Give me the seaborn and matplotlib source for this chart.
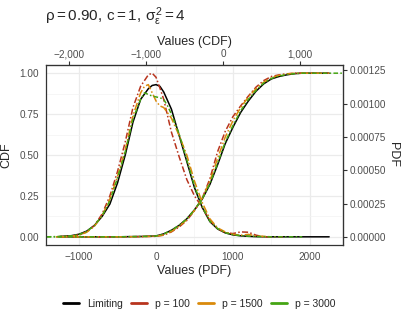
import numpy as np
import pandas as pd
import matplotlib
matplotlib.use("Agg")
import matplotlib.pyplot as plt
import seaborn as sns
from matplotlib.ticker import FuncFormatter, MultipleLocator
from matplotlib.lines import Line2D

# values (PDF curves in left-axis units, i.e. density / PDF_SCALE)
series_names = ["Limiting", "p = 100", "p = 1500", "p = 3000"]
colors = ["#000000", "#B8341E", "#D98A0B", "#45A514"]

lim_pdf_x = [-1250, -1100, -1000, -900, -800, -700, -600, -500, -400, -300, -200, -100, -50, 0,
             50, 100, 200, 300, 400, 500, 600, 700, 800, 900, 1000, 1100, 1200, 1300, 1500, 1800, 2250]
lim_pdf_y = [0.002, 0.007, 0.016, 0.035, 0.07, 0.125, 0.20, 0.33, 0.50, 0.70, 0.84, 0.905, 0.925, 0.93,
             0.92, 0.885, 0.78, 0.62, 0.46, 0.30, 0.18, 0.093, 0.048, 0.024, 0.012, 0.006, 0.003, 0.001, 0.0, 0.0, 0.0]

p100_pdf_x = [-1300, -1100, -1000, -900, -800, -700, -600, -500, -400, -300, -200, -100, -50, 0,
              50, 100, 200, 300, 400, 500, 600, 700, 800, 900, 1000, 1100, 1200, 1300, 1400, 1650]
p100_pdf_y = [0.0, 0.005, 0.012, 0.03, 0.07, 0.14, 0.25, 0.40, 0.58, 0.79, 0.92, 0.99, 1.0, 0.975,
              0.91, 0.84, 0.64, 0.49, 0.35, 0.25, 0.18, 0.10, 0.05, 0.025, 0.02, 0.03, 0.028, 0.01, 0.0, 0.0]

p1500_pdf_x = [-1300, -1100, -1000, -900, -800, -700, -600, -500, -400, -300, -200, -150, -100, -50, 0,
               50, 100, 200, 300, 400, 500, 600, 700, 800, 900, 1000, 1100, 1200, 1300, 1500]
p1500_pdf_y = [0.0, 0.004, 0.01, 0.028, 0.065, 0.13, 0.23, 0.37, 0.53, 0.74, 0.88, 0.92, 0.93, 0.88, 0.83,
               0.80, 0.79, 0.725, 0.62, 0.50, 0.34, 0.21, 0.11, 0.055, 0.03, 0.015, 0.01, 0.015, 0.005, 0.0]

p3000_pdf_x = [-1420, -1250, -1100, -1000, -900, -800, -700, -600, -500, -400, -300, -200, -150, -100, -50, 0,
               50, 100, 150, 200, 300, 400, 500, 600, 700, 800, 900, 1000, 1100, 1200, 1300, 1500, 1900]
p3000_pdf_y = [0.0, 0.002, 0.006, 0.014, 0.033, 0.07, 0.13, 0.22, 0.36, 0.52, 0.72, 0.84, 0.88, 0.87, 0.86, 0.855,
               0.85, 0.84, 0.80, 0.75, 0.63, 0.47, 0.31, 0.185, 0.095, 0.05, 0.025, 0.013, 0.007, 0.004, 0.002, 0.0, 0.0]

cdf_x = [-1250, -1000, -500, -200, 0, 100, 200, 300, 400, 500, 600, 700, 800, 900, 1000,
         1100, 1200, 1300, 1400, 1500, 1600, 1700, 1800, 1900, 2000, 2250]
lim_cdf_y = [0.0, 0.0, 0.0, 0.002, 0.005, 0.018, 0.04, 0.07, 0.11, 0.165, 0.23, 0.32, 0.44, 0.57, 0.67,
             0.76, 0.83, 0.89, 0.935, 0.965, 0.98, 0.99, 0.997, 1.0, 1.0, 1.0]
p100_cdf_y = [0.0, 0.0, 0.0, 0.001, 0.003, 0.01, 0.03, 0.06, 0.10, 0.16, 0.235, 0.355, 0.52, 0.645, 0.735,
              0.80, 0.86, 0.915, 0.955, 0.98, 0.99, 0.996, 1.0, 1.0, 1.0, 1.0]
p1500_cdf_y = [0.0, 0.0, 0.0, 0.001, 0.004, 0.012, 0.033, 0.065, 0.105, 0.162, 0.235, 0.34, 0.48, 0.61, 0.71,
               0.79, 0.855, 0.905, 0.945, 0.972, 0.987, 0.995, 1.0, 1.0, 1.0, 1.0]
p3000_cdf_x = [-1420] + cdf_x + [2420]
p3000_cdf_y = [0.0] + [0.0, 0.0, 0.0, 0.002, 0.005, 0.017, 0.04, 0.07, 0.11, 0.165, 0.232, 0.325, 0.45, 0.58, 0.68,
                       0.77, 0.84, 0.895, 0.94, 0.968, 0.983, 0.992, 0.997, 1.0, 1.0, 1.0] + [1.0]

PDF_SCALE = 0.001228   # right axis = left axis * PDF_SCALE
CDF_SHIFT = 870        # top axis = bottom axis - CDF_SHIFT

curves = [
    ("Limiting", "pdf", lim_pdf_x, lim_pdf_y), ("Limiting", "cdf", cdf_x, lim_cdf_y),
    ("p = 100", "pdf", p100_pdf_x, p100_pdf_y), ("p = 100", "cdf", cdf_x, p100_cdf_y),
    ("p = 1500", "pdf", p1500_pdf_x, p1500_pdf_y), ("p = 1500", "cdf", cdf_x, p1500_cdf_y),
    ("p = 3000", "pdf", p3000_pdf_x, p3000_pdf_y), ("p = 3000", "cdf", p3000_cdf_x, p3000_cdf_y),
]
df = pd.concat([pd.DataFrame({"x": xs, "y": ys, "series": s, "kind": k}) for s, k, xs, ys in curves],
               ignore_index=True)

sns.set_style("white")
plt.rcParams["font.family"] = ["Liberation Sans", "DejaVu Sans"]
plt.rcParams["mathtext.fontset"] = "custom"
plt.rcParams["mathtext.rm"] = "Liberation Sans"
plt.rcParams["mathtext.it"] = "Liberation Sans"

fig = plt.figure(figsize=(4.07, 3.26), dpi=100)
ax = fig.add_axes([46 / 407, 1 - 245 / 326, (343 - 46) / 407, (245 - 65) / 326])

palette = dict(zip(series_names, colors))
dashes = {"Limiting": "", "p = 100": (4, 1.5, 1, 1.5), "p = 1500": (5, 1.5, 1, 1.5), "p = 3000": (3, 1.5, 1, 1.5)}
sns.lineplot(data=df, x="x", y="y", hue="series", style="series", units="kind", estimator=None,
             hue_order=series_names, style_order=series_names, palette=palette, dashes=dashes,
             linewidth=1.1, legend=False, ax=ax)

ax.set_xlim(-1430, 2430)
ax.set_ylim(-0.05, 1.05)
ax.set_xticks([-1000, 0, 1000, 2000])
ax.xaxis.set_minor_locator(MultipleLocator(500))
ax.set_yticks([0, 0.25, 0.5, 0.75, 1.0])
ax.yaxis.set_minor_locator(MultipleLocator(0.125))
ax.yaxis.set_major_formatter(FuncFormatter(lambda v, p: f"{v:.2f}"))
ax.grid(which="major", color="#EBEBEB", linewidth=0.9)
ax.grid(which="minor", color="#F3F3F3", linewidth=0.5)
ax.tick_params(which="minor", length=0)
ax.tick_params(which="major", length=3, width=0.8, color="#333333", labelcolor="#4D4D4D",
               labelsize=7.2, pad=2)
for sp in ax.spines.values():
    sp.set_color("#333333")
    sp.set_linewidth(0.9)
ax.set_xlabel("Values (PDF)", fontsize=9, labelpad=2)
ax.set_ylabel("CDF", fontsize=9, labelpad=5)

top = ax.secondary_xaxis("top", functions=(lambda x: x - CDF_SHIFT, lambda x: x + CDF_SHIFT))
top.set_xticks([-2000, -1000, 0, 1000])
top.xaxis.set_major_formatter(FuncFormatter(lambda v, p: f"{v:,.0f}".replace("-", "\u2212")))
top.tick_params(length=3, width=0.8, color="#333333", labelcolor="#4D4D4D", labelsize=7.2, pad=1)
top.set_xlabel("Values (CDF)", fontsize=9, labelpad=3)

right = ax.secondary_yaxis("right", functions=(lambda v: v * PDF_SCALE, lambda v: v / PDF_SCALE))
right.set_yticks([0, 0.00025, 0.0005, 0.00075, 0.001, 0.00125])
right.yaxis.set_major_formatter(FuncFormatter(lambda v, p: f"{v:.5f}"))
right.tick_params(length=3, width=0.8, color="#333333", labelcolor="#4D4D4D", labelsize=7.2, pad=2)
right.set_ylabel("PDF", fontsize=9, rotation=-90, labelpad=9)

fig.text(45 / 407, 1 - 17 / 326, r"$\rho = 0.90,\, c = 1,\, \sigma_\varepsilon^2 = 4$",
         fontsize=11, ha="left", va="center")

handles = [Line2D([], [], color=c, linewidth=2) for c in colors]
fig.legend(handles, series_names, loc="center", bbox_to_anchor=(0.49, 1 - 304 / 326), ncol=4,
           frameon=False, fontsize=7.5, handlelength=1.5, handletextpad=0.8, columnspacing=0.8)

fig.savefig("out.png", dpi=100)
